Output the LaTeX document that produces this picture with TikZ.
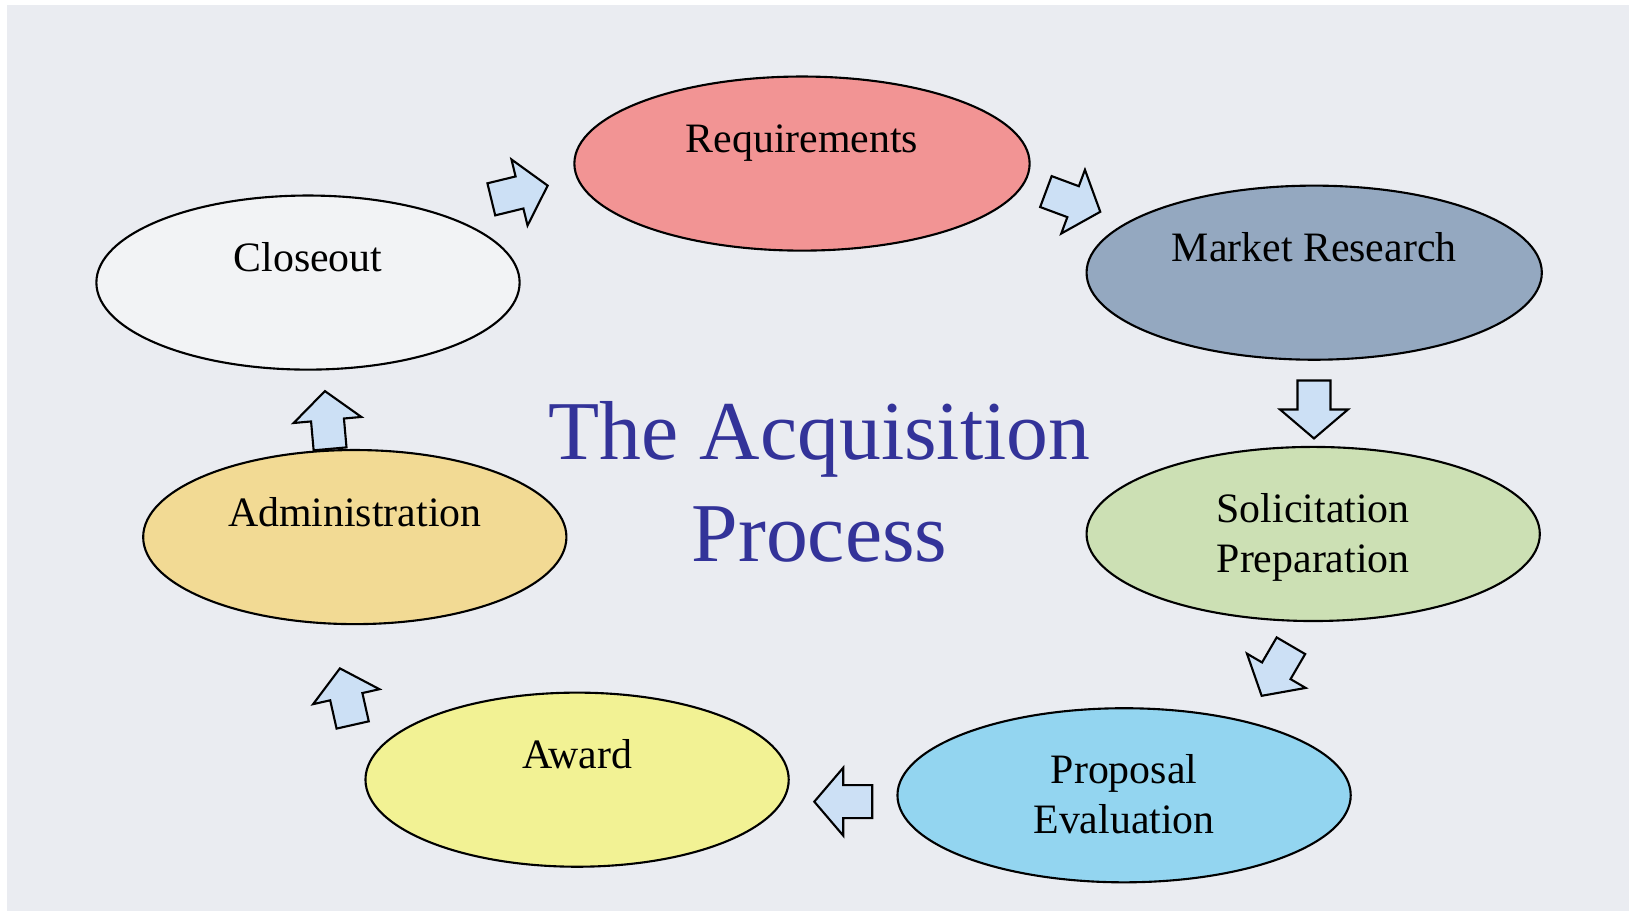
\documentclass[tikz,border=0pt]{standalone}
\usepackage{fontspec}
\setmainfont{Liberation Serif}
\usepackage{xcolor}
\usepackage{tikz}
\usetikzlibrary{shapes.geometric, positioning}

\definecolor{bgcol}{HTML}{EAECF1}
\definecolor{titlecol}{HTML}{333399}
\definecolor{arrowcol}{HTML}{CCE0F5}
\definecolor{reqcol}{HTML}{F29494}
\definecolor{mktcol}{HTML}{94A8C0}
\definecolor{solcol}{HTML}{CCE0B4}
\definecolor{propcol}{HTML}{93D5F0}
\definecolor{awardcol}{HTML}{F2F294}
\definecolor{admincol}{HTML}{F2DA94}
\definecolor{closecol}{HTML}{F2F3F5}

\tikzset{
  stage/.style={ellipse, draw=black, line width=0.6pt, minimum height=1.74cm, inner sep=0pt},
  stagetext/.style={anchor=base, font=\fontsize{11.9}{14}\selectfont},
  titletext/.style={anchor=base, text=titlecol, font=\fontsize{23.8}{28}\selectfont},
  pics/cyclearrow/.style={code={
    \draw[fill=arrowcol, line width=0.6pt]
      (-29,-16.5) -- (0,-16.5) -- (0,-34) -- (29,0) -- (0,34) -- (0,16.5) -- (-29,16.5) -- cycle;
  }}
}

\begin{document}
\begin{tikzpicture}[x=0.01cm, y=0.01cm]
    % 1. Nen
    \useasboundingbox (0,0) rectangle (1629,913);
    \fill[white] (0,0) rectangle (1629,913);
    \fill[bgcol] (7,2) rectangle (1629,908);

    % 2. Cac giai doan
    \node[stage, fill=reqcol,   minimum width=4.55cm] (req)   at (802,749.4)   {};
    \node[stage, fill=mktcol,   minimum width=4.55cm] (mkt)   at (1314.2,640.3) {};
    \node[stage, fill=solcol,   minimum width=4.53cm] (sol)   at (1313.2,379)  {};
    \node[stage, fill=propcol,  minimum width=4.53cm] (prop)  at (1124.1,117.7) {};
    \node[stage, fill=awardcol, minimum width=4.23cm] (award) at (577.1,133.3) {};
    \node[stage, fill=admincol, minimum width=4.23cm] (admin) at (354.8,375.9) {};
    \node[stage, fill=closecol, minimum width=4.23cm] (close) at (308,630.4)   {};

    \node[stagetext] (req-t)   at ([yshift=0.11cm]req.center)   {Requirements};
    \node[stagetext] (mkt-t)   at ([yshift=0.11cm]mkt.center)   {Market Research};
    \node[stagetext] (sol-a)   at ([yshift=0.115cm]sol.center)  {Solicitation};
    \node[stagetext] (sol-b)   at ([yshift=-0.385cm]sol.center) {Preparation};
    \node[stagetext] (prop-a)  at ([yshift=0.12cm]prop.center)  {Proposal};
    \node[stagetext] (prop-b)  at ([yshift=-0.38cm]prop.center) {Evaluation};
    \node[stagetext] (award-t) at ([yshift=0.11cm]award.center) {Award};
    \node[stagetext] (admin-t) at ([yshift=0.11cm]admin.center) {Administration};
    \node[stagetext] (close-t) at ([yshift=0.11cm]close.center) {Closeout};

    % 3. Mui ten giua cac giai doan
    \pic[rotate=13.7]   at (519.5,720.5)  {cyclearrow};
    \pic[rotate=-20.4]  at (1073.1,711.3) {cyclearrow};
    \pic[rotate=-90]    at (1314,503.5)   {cyclearrow};
    \pic[rotate=-120.3] at (1276.3,242.2) {cyclearrow};
    \pic[rotate=180]    at (843.3,111.3)  {cyclearrow};
    \pic[rotate=102.7]  at (346.3,216.3)  {cyclearrow};
    \pic[rotate=95.1]   at (327.5,493)    {cyclearrow};

    % 4. Tieu de
    \node[titletext] (title-a) at (819.5,453.5) {The Acquisition};
    \node[titletext] (title-b) at (819.5,351)   {Process};
\end{tikzpicture}
\end{document}
